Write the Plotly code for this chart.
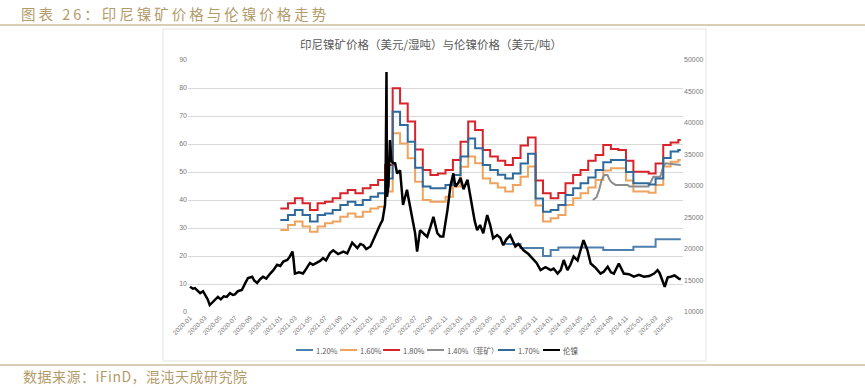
import plotly.graph_objects as go

# ---------------- data ----------------
ore_months = [
    "2021-01-01", "2021-02-01", "2021-03-01", "2021-04-01", "2021-05-01", "2021-06-01",
    "2021-07-01", "2021-08-01", "2021-09-01", "2021-10-01", "2021-11-01", "2021-12-01",
    "2022-01-01", "2022-02-01", "2022-03-01", "2022-04-01", "2022-05-01", "2022-06-01",
    "2022-07-01", "2022-08-01", "2022-09-01", "2022-10-01", "2022-11-01", "2022-12-01",
    "2023-01-01", "2023-02-01", "2023-03-01", "2023-04-01", "2023-05-01", "2023-06-01",
    "2023-07-01", "2023-08-01", "2023-09-01", "2023-10-01", "2023-11-01", "2023-12-01",
    "2024-01-01", "2024-02-01", "2024-03-01", "2024-04-01", "2024-05-01", "2024-06-01",
    "2024-07-01", "2024-08-01", "2024-09-01", "2024-10-01", "2024-11-01", "2024-12-01",
    "2025-01-01", "2025-02-01", "2025-03-01", "2025-04-01", "2025-05-01", "2025-06-01",
]
ore_end = "2025-06-11"

ni_180 = [37.0, 38.8, 40.6, 38.8, 36.4, 38.8, 39.4, 40.6, 42.4, 43.6, 42.4, 44.2,
          45.4, 47.1, 52.5, 79.9, 74.5, 68.0, 58.0, 50.7, 48.9, 49.5, 50.7, 54.3,
          60.8, 68.0, 65.0, 57.9, 55.5, 54.0, 52.5, 55.0, 59.5, 62.3, 47.0, 42.4,
          40.6, 42.5, 46.0, 48.9, 50.7, 54.0, 56.1, 59.6, 58.2, 57.9, 54.0, 50.1,
          50.1, 49.5, 53.0, 59.6, 60.5, 61.4]
ni_170 = [32.9, 34.6, 36.4, 34.6, 32.3, 34.6, 35.2, 36.4, 38.2, 39.4, 38.2, 40.0,
          41.2, 42.4, 47.7, 71.5, 66.8, 60.8, 51.5, 44.8, 44.2, 44.2, 45.4, 48.9,
          55.5, 62.0, 58.5, 52.5, 50.7, 49.0, 47.7, 49.5, 53.0, 56.5, 40.5, 35.8,
          36.4, 38.2, 41.8, 44.2, 46.0, 48.0, 50.7, 53.5, 54.3, 54.3, 50.0, 46.0,
          46.0, 45.5, 47.7, 55.0, 57.3, 57.9]
ni_160 = [29.3, 31.1, 32.3, 30.5, 28.7, 30.5, 31.7, 32.3, 34.0, 35.2, 34.0, 35.8,
          37.0, 37.6, 43.0, 63.8, 60.2, 54.9, 46.5, 40.0, 39.4, 39.4, 41.2, 44.8,
          51.9, 55.5, 53.1, 47.7, 46.0, 44.5, 43.0, 45.4, 48.3, 52.0, 38.0, 32.3,
          33.5, 34.6, 38.2, 40.6, 42.4, 44.5, 47.1, 50.5, 51.3, 51.3, 47.0, 43.0,
          43.0, 42.6, 45.4, 52.0, 53.7, 54.3]

ni_120_months = ore_months[30:]
ni_120 = [24.3, 24.3, 22.9, 22.9, 22.9, 20.0,
          22.1, 23.0, 23.0, 23.0, 23.0, 23.0, 23.0, 22.1, 22.1, 22.1, 22.1, 23.3,
          23.3, 23.3, 26.0, 26.0, 26.0, 26.0]

ph_140_dates = ["2024-06-20", "2024-07-05", "2024-07-15", "2024-07-25", "2024-08-05",
                "2024-08-18", "2024-08-28", "2024-09-08", "2024-09-20", "2024-11-08",
                "2024-11-15", "2025-01-31", "2025-02-10", "2025-02-20", "2025-03-20",
                "2025-04-01", "2025-04-10", "2025-06-11"]
ph_140 = [40.0, 41.0, 43.5, 47.0, 48.9, 48.9, 47.0, 46.0, 45.4, 45.4,
          44.8, 44.8, 46.5, 48.3, 48.3, 52.0, 53.1, 52.5]

lme_dates = [
    "2020-01-01", "2020-01-13", "2020-01-21", "2020-02-03", "2020-02-11", "2020-02-23",
    "2020-03-01", "2020-03-13", "2020-03-21", "2020-04-03", "2020-04-11", "2020-04-23",
    "2020-05-05", "2020-05-17", "2020-05-29", "2020-06-11", "2020-06-23", "2020-07-01",
    "2020-07-13", "2020-07-29", "2020-08-11", "2020-08-23", "2020-09-09", "2020-09-17",
    "2020-09-29", "2020-10-11", "2020-10-23", "2020-11-05", "2020-11-21", "2020-12-03",
    "2020-12-19", "2021-01-01", "2021-01-13", "2021-01-29", "2021-02-07", "2021-02-19",
    "2021-02-23", "2021-03-01", "2021-03-17", "2021-04-03", "2021-04-15", "2021-05-01",
    "2021-05-13", "2021-05-29", "2021-06-11", "2021-06-23", "2021-07-05", "2021-07-21",
    "2021-08-03", "2021-08-23", "2021-09-13", "2021-09-29", "2021-10-19", "2021-11-09",
    "2021-11-21", "2021-12-03", "2021-12-15", "2022-01-01", "2022-01-13", "2022-01-29",
    "2022-02-11", "2022-02-19", "2022-02-25", "2022-03-01", "2022-03-03", "2022-03-07",
    "2022-03-09", "2022-03-15", "2022-03-21", "2022-03-27", "2022-04-03", "2022-04-11",
    "2022-04-19", "2022-05-01", "2022-05-13", "2022-05-29", "2022-06-03", "2022-06-19",
    "2022-07-01", "2022-07-09", "2022-07-21", "2022-08-03", "2022-08-19", "2022-09-01",
    "2022-09-13", "2022-09-29", "2022-10-11", "2022-10-23", "2022-11-09", "2022-11-21",
    "2022-12-03", "2022-12-11", "2022-12-23", "2023-01-01", "2023-01-13", "2023-01-29",
    "2023-02-07", "2023-02-19", "2023-02-27", "2023-03-09", "2023-03-21", "2023-04-03",
    "2023-04-19", "2023-05-01", "2023-05-13", "2023-05-29", "2023-06-11", "2023-06-23",
    "2023-07-05", "2023-07-21", "2023-08-11", "2023-08-23", "2023-09-13", "2023-10-03",
    "2023-10-23", "2023-11-05", "2023-11-21", "2023-12-11", "2024-01-01", "2024-01-13",
    "2024-01-29", "2024-02-11", "2024-02-23", "2024-03-09", "2024-03-21", "2024-04-03",
    "2024-04-19", "2024-05-01", "2024-05-13", "2024-05-29", "2024-06-11", "2024-07-01",
    "2024-07-21", "2024-08-03", "2024-08-19", "2024-09-01", "2024-09-13", "2024-10-03",
    "2024-10-23", "2024-11-13", "2024-12-03", "2024-12-23", "2025-01-13", "2025-02-03",
    "2025-02-23", "2025-03-09", "2025-03-17", "2025-04-07", "2025-04-19", "2025-05-01",
    "2025-05-17", "2025-06-03", "2025-06-11",
]
lme_values = [
    14000, 13700, 13800, 13300, 13000, 13300,
    12800, 12000, 11100, 11600, 11900, 12400,
    12000, 12500, 12400, 13000, 12700, 12800,
    13300, 13500, 14500, 15400, 15600, 15000,
    14600, 15200, 15600, 15300, 16100, 16600,
    17500, 17300, 18000, 18250, 18700, 19600,
    18500, 16100, 16300, 16100, 16800, 17800,
    17500, 17800, 18100, 18550, 18200, 19350,
    19800, 19200, 19600, 19300, 21000, 20150,
    20800, 20600, 20000, 20400, 21500, 23000,
    24000, 24600, 25700, 27000, 29000, 48100,
    28300, 30000, 37300, 34000, 33650, 33600,
    32000, 32500, 27000, 29400, 28300, 24800,
    22500, 19600, 23000, 22500, 21950, 23500,
    25100, 22500, 22000, 22000, 26200, 30000,
    32000, 29900, 30500, 31300, 29500, 31000,
    29000, 26800, 24500, 23000, 23800, 22500,
    25400, 23800, 21700, 22200, 21800, 20600,
    21500, 22200, 20400, 20800, 19800, 19200,
    18250, 17800, 16650, 17100, 16650, 16900,
    16100, 16700, 18250, 16650, 17500, 18800,
    18200, 19800, 21400, 19800, 17700, 17000,
    16100, 16400, 17200, 16300, 16100, 17700,
    16100, 16000, 15600, 15900, 15600, 15700,
    16100, 16650, 16200, 14000, 15500, 15600,
    15800, 15300, 15200,
]

tick_dates = []
tick_text = []
for y in range(2020, 2026):
    for mth in (1, 3, 5, 7, 9, 11):
        if y == 2025 and mth > 5:
            continue
        tick_dates.append(f"{y}-{mth:02d}-01")
        tick_text.append(f"{y}-{mth:02d}")

right_ticks = list(range(10000, 50001, 5000))
right_text = [str(v) for v in right_ticks]

# ---------------- styling ----------------
W, H = 865, 388
PL, PR, PT, PB = 188, 683, 60, 312   # plot area in pixels
GOLD = "#B39B69"
TXT = "#595959"
TICK = "#7A7A7A"
C120 = "#4E7FAE"
C160 = "#F0A35E"
C180 = "#D8232A"
C140 = "#8C8C8C"
C170 = "#2F6A9C"
CLME = "#000000"
FONT = "Noto Sans CJK SC, Noto Sans, sans-serif"
NUMFONT = "Liberation Sans, Arial, sans-serif"


def px(xp):
    return (xp - PL) / (PR - PL)


def py(yp):
    return (PB - yp) / (PB - PT)


fig = go.Figure()


def step_trace(dates, vals, color, name):
    fig.add_trace(go.Scatter(
        x=list(dates) + [ore_end], y=list(vals) + [vals[-1]],
        mode="lines", line=dict(color=color, width=2, shape="hv"),
        name=name, showlegend=False, yaxis="y", hoverinfo="skip"))


step_trace(ni_120_months, ni_120, C120, "1.20%")
step_trace(ore_months, ni_160, C160, "1.60%")
step_trace(ore_months, ni_180, C180, "1.80%")
fig.add_trace(go.Scatter(x=ph_140_dates, y=ph_140, mode="lines",
                         line=dict(color=C140, width=2), name="1.40%（菲矿）",
                         showlegend=False, yaxis="y"))
step_trace(ore_months, ni_170, C170, "1.70%")
fig.add_trace(go.Scatter(x=lme_dates, y=lme_values, mode="lines",
                         line=dict(color=CLME, width=2.5), name="伦镍",
                         showlegend=False, yaxis="y2"))

fig.update_layout(
    width=W, height=H,
    margin=dict(l=PL, r=W - PR, t=PT, b=H - PB),
    paper_bgcolor="white", plot_bgcolor="white",
    font=dict(family=FONT, color=TXT),
    xaxis=dict(type="date", range=["2019-12-24", "2025-06-20"],
               tickmode="array", tickvals=tick_dates, ticktext=tick_text,
               tickangle=-45, tickfont=dict(size=6.5, color=TICK, family=NUMFONT),
               showgrid=False, zeroline=False, showline=False, ticks=""),
    yaxis=dict(range=[0, 90], tickvals=list(range(0, 91, 10)),
               tickfont=dict(size=7, color=TICK, family=NUMFONT),
               showgrid=True, gridcolor="#D9D9D9", gridwidth=1,
               zeroline=False, showline=False, ticks=""),
    yaxis2=dict(range=[10000, 50000], tickmode="array", tickvals=right_ticks,
                ticktext=right_text, overlaying="y", side="right",
                tickfont=dict(size=7, color=TICK, family=NUMFONT),
                showgrid=False, zeroline=False, showline=False, ticks=""),
)

shapes = []
annos = []
# header line and footer line (gold)
shapes.append(dict(type="line", xref="paper", yref="paper", x0=px(0), x1=px(W),
                   y0=py(25), y1=py(25), line=dict(color=GOLD, width=1.2)))
shapes.append(dict(type="line", xref="paper", yref="paper", x0=px(0), x1=px(W),
                   y0=py(365), y1=py(365), line=dict(color=GOLD, width=1.2)))
# chart frame
shapes.append(dict(type="rect", xref="paper", yref="paper", x0=px(163), x1=px(706),
                   y0=py(361), y1=py(29), line=dict(color="#E3E3E3", width=1)))

annos.append(dict(text='<span style="letter-spacing:3px">图表 26：印尼镍矿价格与伦镍价格走势</span>',
                  xref="paper", yref="paper",
                  x=px(19), y=py(14), xanchor="left", yanchor="middle", showarrow=False,
                  font=dict(size=14.5, color=GOLD, family=FONT)))
annos.append(dict(text='<span style="letter-spacing:0.5px">数据来源：iFinD，混沌天成研究院</span>',
                  xref="paper", yref="paper",
                  x=px(21), y=py(376), xanchor="left", yanchor="middle", showarrow=False,
                  font=dict(size=14, color=GOLD, family=FONT)))
annos.append(dict(text="印尼镍矿价格（美元/湿吨）与伦镍价格（美元/吨）", xref="paper",
                  yref="paper", x=px(431), y=py(44), xanchor="center", yanchor="middle",
                  showarrow=False, font=dict(size=11.5, color=TXT, family=FONT)))

legend_items = [("1.20%", C120, 296), ("1.60%", C160, 340), ("1.80%", C180, 383),
                ("1.40%（菲矿）", C140, 427), ("1.70%", C170, 498), ("伦镍", CLME, 543)]
for label, col, x0 in legend_items:
    shapes.append(dict(type="line", xref="paper", yref="paper", x0=px(x0), x1=px(x0 + 17),
                       y0=py(350), y1=py(350), line=dict(color=col, width=2)))
    annos.append(dict(text=label, xref="paper", yref="paper", x=px(x0 + 18), y=py(350),
                      xanchor="left", yanchor="middle", showarrow=False,
                      font=dict(size=7.5, color=TXT, family=FONT)))

fig.update_layout(shapes=shapes, annotations=annos)
fig.write_html("out.html", config={"displayModeBar": False},
               post_script="document.body.style.margin='0px';")
